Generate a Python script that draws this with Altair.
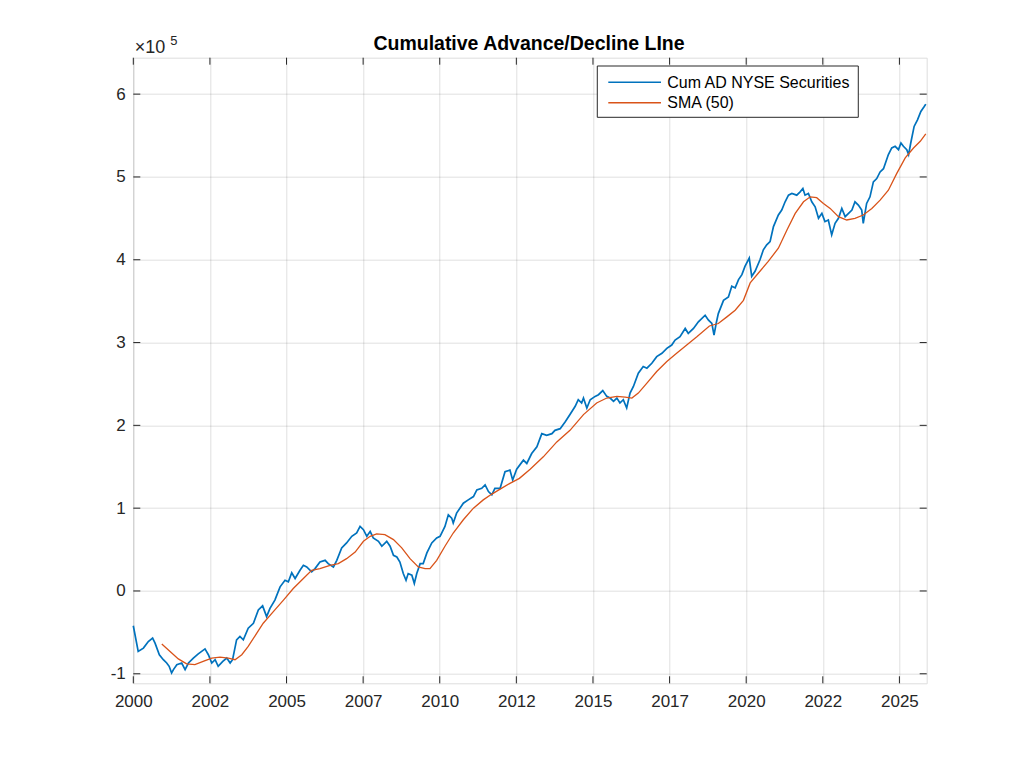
import altair as alt
import pandas as pd

# ---- data (values in units of 1e5) ----
blue_years = [2000.00, 2000.16, 2000.33, 2000.49, 2000.63, 2000.71, 2000.85, 2000.98, 2001.09, 2001.17,
              2001.25, 2001.31, 2001.42, 2001.58, 2001.69, 2001.80, 2001.96, 2002.12, 2002.34, 2002.45,
              2002.56, 2002.67, 2002.77, 2002.92, 2003.05, 2003.16, 2003.24, 2003.37, 2003.48, 2003.59,
              2003.75, 2003.92, 2004.08, 2004.22, 2004.35, 2004.46, 2004.62, 2004.79, 2004.95, 2005.06,
              2005.17, 2005.28, 2005.44, 2005.55, 2005.66, 2005.82, 2005.93, 2006.09, 2006.26, 2006.36,
              2006.53, 2006.64, 2006.80, 2006.96, 2007.13, 2007.29, 2007.40, 2007.51, 2007.62, 2007.73,
              2007.83, 2008.00, 2008.11, 2008.27, 2008.38, 2008.49, 2008.60, 2008.70, 2008.81, 2008.90,
              2008.97, 2009.09, 2009.17, 2009.25, 2009.36, 2009.46, 2009.58, 2009.74, 2009.90, 2010.01,
              2010.17, 2010.28, 2010.39, 2010.44, 2010.55, 2010.77, 2010.93, 2011.10, 2011.21, 2011.37,
              2011.48, 2011.59, 2011.70, 2011.80, 2011.97, 2012.13, 2012.29, 2012.38, 2012.51, 2012.73,
              2012.84, 2013.00, 2013.17, 2013.33, 2013.49, 2013.66, 2013.76, 2013.93, 2014.09, 2014.25,
              2014.42, 2014.52, 2014.63, 2014.69, 2014.80, 2014.91, 2015.07, 2015.18, 2015.32, 2015.45,
              2015.56, 2015.67, 2015.78, 2015.88, 2015.99, 2016.10, 2016.21, 2016.32, 2016.48, 2016.64,
              2016.76, 2016.92, 2017.08, 2017.25, 2017.41, 2017.57, 2017.68, 2017.84, 2018.01, 2018.11,
              2018.28, 2018.44, 2018.66, 2018.77, 2018.88, 2018.95, 2019.02, 2019.09, 2019.26, 2019.42,
              2019.53, 2019.64, 2019.75, 2019.86, 2019.96, 2020.10, 2020.18, 2020.29, 2020.45, 2020.56,
              2020.67, 2020.78, 2020.89, 2021.05, 2021.16, 2021.27, 2021.38, 2021.49, 2021.65, 2021.76,
              2021.85, 2021.92, 2022.03, 2022.14, 2022.25, 2022.36, 2022.47, 2022.57, 2022.68, 2022.79,
              2022.90, 2023.01, 2023.12, 2023.23, 2023.34, 2023.45, 2023.55, 2023.66, 2023.77, 2023.82,
              2023.93, 2024.04, 2024.15, 2024.26, 2024.37, 2024.48, 2024.64, 2024.75, 2024.86, 2024.97,
              2025.05, 2025.13, 2025.24, 2025.30, 2025.37, 2025.48, 2025.59, 2025.70, 2025.81, 2025.86]
blue_vals = [-0.42, -0.73, -0.69, -0.61, -0.57, -0.63, -0.77, -0.83, -0.87, -0.91,
             -0.99, -0.95, -0.89, -0.87, -0.95, -0.87, -0.81, -0.76, -0.70, -0.77,
             -0.87, -0.83, -0.91, -0.85, -0.81, -0.87, -0.83, -0.59, -0.55, -0.59,
             -0.45, -0.39, -0.23, -0.18, -0.31, -0.21, -0.11, 0.05, 0.13, 0.11,
             0.22, 0.15, 0.25, 0.31, 0.29, 0.23, 0.27, 0.35, 0.37, 0.33,
             0.29, 0.37, 0.52, 0.58, 0.66, 0.70, 0.78, 0.74, 0.66, 0.72,
             0.64, 0.60, 0.54, 0.60, 0.54, 0.43, 0.41, 0.35, 0.21, 0.13,
             0.21, 0.19, 0.09, 0.21, 0.33, 0.33, 0.46, 0.58, 0.64, 0.66,
             0.78, 0.92, 0.88, 0.82, 0.94, 1.06, 1.10, 1.14, 1.22, 1.24,
             1.28, 1.20, 1.16, 1.24, 1.24, 1.44, 1.46, 1.34, 1.47, 1.58,
             1.54, 1.66, 1.74, 1.90, 1.88, 1.90, 1.94, 1.96, 2.04, 2.13,
             2.23, 2.31, 2.27, 2.33, 2.21, 2.31, 2.35, 2.37, 2.42, 2.35,
             2.33, 2.29, 2.33, 2.27, 2.31, 2.21, 2.39, 2.47, 2.63, 2.71,
             2.69, 2.75, 2.83, 2.87, 2.93, 2.97, 3.03, 3.07, 3.17, 3.11,
             3.17, 3.25, 3.33, 3.27, 3.23, 3.09, 3.23, 3.35, 3.51, 3.55,
             3.68, 3.66, 3.76, 3.82, 3.92, 4.02, 3.80, 3.86, 4.00, 4.12,
             4.18, 4.22, 4.40, 4.54, 4.60, 4.70, 4.78, 4.80, 4.78, 4.82,
             4.86, 4.78, 4.80, 4.70, 4.64, 4.50, 4.56, 4.46, 4.48, 4.30,
             4.44, 4.50, 4.62, 4.52, 4.56, 4.60, 4.70, 4.66, 4.60, 4.44,
             4.68, 4.76, 4.94, 4.98, 5.06, 5.10, 5.27, 5.35, 5.37, 5.33,
             5.41, 5.37, 5.33, 5.27, 5.41, 5.61, 5.69, 5.79, 5.85, 5.88]

sma_years = [2000.93, 2001.20, 2001.47, 2001.74, 2002.01, 2002.28, 2002.56, 2002.83, 2003.10, 2003.32,
             2003.54, 2003.75, 2004.03, 2004.24, 2004.57, 2004.90, 2005.22, 2005.55, 2005.82, 2006.09,
             2006.42, 2006.69, 2006.96, 2007.24, 2007.51, 2007.73, 2007.94, 2008.21, 2008.49, 2008.76,
             2009.03, 2009.30, 2009.52, 2009.68, 2009.90, 2010.17, 2010.44, 2010.77, 2011.10, 2011.42,
             2011.70, 2011.97, 2012.29, 2012.60, 2012.95, 2013.38, 2013.82, 2014.25, 2014.69, 2015.12,
             2015.45, 2015.78, 2016.05, 2016.27, 2016.48, 2016.76, 2017.08, 2017.41, 2017.73, 2018.06,
             2018.39, 2018.80, 2019.09, 2019.37, 2019.64, 2019.91, 2020.13, 2020.40, 2020.72, 2021.05,
             2021.33, 2021.60, 2021.87, 2022.09, 2022.30, 2022.52, 2022.74, 2023.01, 2023.28, 2023.55,
             2023.82, 2024.10, 2024.37, 2024.64, 2024.91, 2025.19, 2025.46, 2025.68, 2025.86]
sma_vals = [-0.64, -0.73, -0.82, -0.88, -0.89, -0.85, -0.81, -0.80, -0.81, -0.83,
            -0.77, -0.67, -0.51, -0.39, -0.25, -0.11, 0.03, 0.15, 0.25, 0.27,
            0.31, 0.33, 0.39, 0.47, 0.60, 0.66, 0.69, 0.68, 0.62, 0.52,
            0.39, 0.29, 0.27, 0.27, 0.37, 0.54, 0.70, 0.86, 1.00, 1.10,
            1.17, 1.23, 1.30, 1.36, 1.47, 1.62, 1.80, 1.94, 2.13, 2.27,
            2.33, 2.35, 2.34, 2.33, 2.39, 2.51, 2.65, 2.77, 2.87, 2.97,
            3.07, 3.20, 3.23, 3.31, 3.39, 3.51, 3.72, 3.84, 3.98, 4.14,
            4.36, 4.56, 4.70, 4.76, 4.75, 4.68, 4.62, 4.52, 4.48, 4.50,
            4.54, 4.62, 4.72, 4.84, 5.04, 5.23, 5.35, 5.43, 5.52]

series_names = ["Cum AD NYSE Securities", "SMA (50)"]
series_colors = ["#0072BD", "#D95319"]
x_ticks = [2000, 2002.5, 2005, 2007.5, 2010, 2012.5, 2015, 2017.5, 2020, 2022.5, 2025]
y_ticks = [-1, 0, 1, 2, 3, 4, 5, 6]
title_text = "Cumulative Advance/Decline LIne"

# ---- layout ----
W, H = 793.4, 625.6
FONT = "Liberation Sans"
INK = "#262626"

blue_df = pd.DataFrame({"year": blue_years, "v": blue_vals})
sma_df = pd.DataFrame({"year": sma_years, "v": sma_vals})
xt_df = pd.DataFrame({"year": x_ticks})
yt_df = pd.DataFrame({"v": y_ticks})
one = pd.DataFrame({"k": [0]})

X = alt.X("year:Q",
          scale=alt.Scale(domain=[2000, 2025.89], nice=False, zero=False),
          axis=alt.Axis(values=x_ticks, labelExpr="'' + floor(datum.value)", title=None,
                        ticks=False, domain=False, grid=True, labelPadding=10,
                        labelFontSize=17, labelFont=FONT, labelColor=INK,
                        gridColor=INK, gridOpacity=0.15, labelFlush=False))
Y = alt.Y("v:Q",
          scale=alt.Scale(domain=[-1.115, 6.44], nice=False, zero=False),
          axis=alt.Axis(values=y_ticks, labelExpr="'' + datum.value", title=None,
                        ticks=False, domain=False, grid=True, labelPadding=8,
                        labelFontSize=17, labelFont=FONT, labelColor=INK,
                        gridColor=INK, gridOpacity=0.15, labelFlush=False))

blue = alt.Chart(blue_df).mark_line(color=series_colors[0], strokeWidth=1.7).encode(x=X, y=Y)
sma = alt.Chart(sma_df).mark_line(color=series_colors[1], strokeWidth=1.3).encode(x=X, y=Y)

tick_len = 7
yt_left = alt.Chart(yt_df).mark_rule(color=INK, strokeWidth=1).encode(
    y=Y, x=alt.value(0), x2=alt.value(tick_len))
yt_right = alt.Chart(yt_df).mark_rule(color=INK, strokeWidth=1).encode(
    y=Y, x=alt.value(W - tick_len), x2=alt.value(W))
xt_bottom = alt.Chart(xt_df).mark_rule(color=INK, strokeWidth=1).encode(
    x=X, y=alt.value(H), y2=alt.value(H - tick_len))
xt_top = alt.Chart(xt_df).mark_rule(color=INK, strokeWidth=1).encode(
    x=X, y=alt.value(0), y2=alt.value(tick_len))

# title
title = alt.Chart(one).mark_text(font=FONT, fontSize=19.5, fontWeight="bold", color="black",
                                 align="center", baseline="alphabetic").encode(
    x=alt.value(W / 2 - 1), y=alt.value(-8), text=alt.value(title_text))

# exponent label
exp_base = alt.Chart(one).mark_text(font=FONT, fontSize=18, color=INK, align="left",
                                     baseline="alphabetic").encode(
    x=alt.value(1.5), y=alt.value(-4.4), text=alt.value("×10"))
exp_sup = alt.Chart(one).mark_text(font=FONT, fontSize=13, color=INK, align="left",
                                    baseline="alphabetic").encode(
    x=alt.value(37), y=alt.value(-12.5), text=alt.value("5"))

# legend (drawn box)
LX0, LX1, LY0, LY1 = 464, 725, 8.3, 59.6
rows = [24.6, 45.0]
leg_box = alt.Chart(one).mark_rect(fill="white", stroke=INK, strokeWidth=1).encode(
    x=alt.value(LX0), x2=alt.value(LX1), y=alt.value(LY0), y2=alt.value(LY1))
leg_layers = [leg_box]
for name, col, ry in zip(series_names, series_colors, rows):
    leg_layers.append(alt.Chart(one).mark_rule(color=col, strokeWidth=1.5).encode(
        x=alt.value(475), x2=alt.value(527.7), y=alt.value(ry)))
    leg_layers.append(alt.Chart(one).mark_text(font=FONT, fontSize=16, color="black",
                                               align="left", baseline="middle").encode(
        x=alt.value(534), y=alt.value(ry + 0.5), text=alt.value(name)))

chart = alt.layer(blue, sma, yt_left, yt_right, xt_bottom, xt_top,
                  title, exp_base, exp_sup, *leg_layers).properties(
    width=W, height=H,
    autosize=alt.AutoSizeParams(type="none"),
    padding={"left": 125.3, "top": 49.7, "right": 60, "bottom": 60},
).configure_view(stroke=INK, strokeWidth=1).configure(background="white")

chart.save("out.html", embed_options={"renderer": "svg", "actions": False})
